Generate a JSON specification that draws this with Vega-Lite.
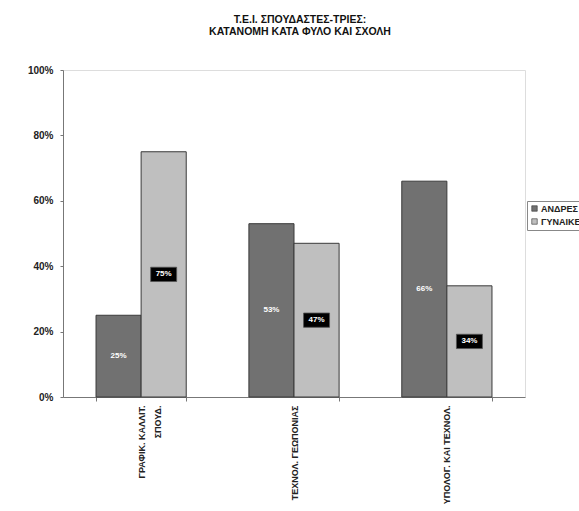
{
  "$schema": "https://vega.github.io/schema/vega-lite/v6.json",
  "autosize": {"type": "none"},
  "padding": {"left": 63, "top": 70, "right": 54, "bottom": 114},
  "width": 462,
  "height": 327,
  "background": "white",
  "title": {
    "text": ["Τ.Ε.Ι. ΣΠΟΥΔΑΣΤΕΣ-ΤΡΙΕΣ:", "ΚΑΤΑΝΟΜΗ ΚΑΤΑ ΦΥΛΟ ΚΑΙ ΣΧΟΛΗ"],
    "anchor": "middle",
    "frame": "group",
    "font": "Liberation Sans",
    "fontSize": 10.5,
    "fontWeight": "bold",
    "lineHeight": 12,
    "color": "#111",
    "offset": 28,
    "dx": 6
  },
  "data": {
    "values": [
      {"school": "ΓΡΑΦΙΚ. ΚΑΛΛΙΤ. ΣΠΟΥΔ.", "sex": "ΑΝΔΡΕΣ", "share": 0.25},
      {"school": "ΓΡΑΦΙΚ. ΚΑΛΛΙΤ. ΣΠΟΥΔ.", "sex": "ΓΥΝΑΙΚΕΣ", "share": 0.75},
      {"school": "ΤΕΧΝΟΛ. ΓΕΩΠΟΝΙΑΣ", "sex": "ΑΝΔΡΕΣ", "share": 0.53},
      {"school": "ΤΕΧΝΟΛ. ΓΕΩΠΟΝΙΑΣ", "sex": "ΓΥΝΑΙΚΕΣ", "share": 0.47},
      {"school": "ΥΠΟΛΟΓ. ΚΑΙ ΤΕΧΝΟΛ.", "sex": "ΑΝΔΡΕΣ", "share": 0.66},
      {"school": "ΥΠΟΛΟΓ. ΚΑΙ ΤΕΧΝΟΛ.", "sex": "ΓΥΝΑΙΚΕΣ", "share": 0.34}
    ]
  },
  "transform": [{"calculate": "datum.share / 2", "as": "label_y"}],
  "encoding": {
    "x": {
      "field": "school",
      "type": "nominal",
      "sort": null,
      "scale": {"paddingInner": 0.41, "paddingOuter": 0.216},
      "axis": {
        "title": null,
        "labelAngle": 270,
        "labelFont": "Liberation Sans",
        "labelFontSize": 9,
        "labelFontWeight": "bold",
        "labelColor": "#222",
        "labelLineHeight": 16,
        "labelPadding": 4,
        "labelExpr": "datum.label == 'ΓΡΑΦΙΚ. ΚΑΛΛΙΤ. ΣΠΟΥΔ.' ? ['ΓΡΑΦΙΚ. ΚΑΛΛΙΤ.', 'ΣΠΟΥΔ.'] : datum.label",
        "tickBand": "extent",
        "tickSize": 4,
        "tickColor": "#777",
        "domainColor": "#777",
        "labelLimit": 200
      }
    },
    "xOffset": {
      "field": "sex",
      "type": "nominal",
      "scale": {"paddingInner": 0, "paddingOuter": 0}
    }
  },
  "layer": [
    {
      "mark": {"type": "bar", "stroke": "#3a3a3a", "strokeWidth": 1},
      "encoding": {
        "y": {
          "field": "share",
          "type": "quantitative",
          "scale": {"domain": [0, 1], "nice": false},
          "axis": {
            "title": null,
            "values": [0, 0.2, 0.4, 0.6, 0.8, 1],
            "format": ".0%",
            "grid": false,
            "labelFont": "Liberation Sans",
            "labelFontSize": 10,
            "labelFontWeight": "bold",
            "labelColor": "#222",
            "labelPadding": 7,
            "tickSize": 3,
            "tickColor": "#777",
            "domainColor": "#777"
          }
        },
        "fill": {
          "field": "sex",
          "type": "nominal",
          "scale": {"domain": ["ΑΝΔΡΕΣ", "ΓΥΝΑΙΚΕΣ"], "range": ["#717171", "#bfbfbf"]},
          "legend": {
            "title": null,
            "orient": "none",
            "legendX": 464,
            "legendY": 131,
            "direction": "vertical",
            "symbolType": "square",
            "symbolSize": 30,
            "symbolStrokeColor": "#333",
            "symbolStrokeWidth": 0.6,
            "labelFont": "Liberation Sans",
            "labelFontSize": 9,
            "labelFontWeight": "bold",
            "labelColor": "#222",
            "labelOffset": 2,
            "rowPadding": 3,
            "padding": 3,
            "strokeColor": "#888",
            "fillColor": "white"
          }
        }
      }
    },
    {
      "transform": [{"filter": "datum.sex == 'ΓΥΝΑΙΚΕΣ'"}],
      "mark": {
        "type": "point",
        "shape": "M-1,-0.55L1,-0.55L1,0.55L-1,0.55Z",
        "size": 676,
        "filled": true,
        "fill": "#000",
        "opacity": 1,
        "stroke": "#555",
        "strokeWidth": 0.8
      },
      "encoding": {
        "y": {"field": "label_y", "type": "quantitative"}
      }
    },
    {
      "mark": {
        "type": "text",
        "font": "Liberation Sans",
        "fontSize": 8,
        "fontWeight": "bold",
        "color": "white",
        "baseline": "middle",
        "align": "center"
      },
      "encoding": {
        "y": {"field": "label_y", "type": "quantitative"},
        "text": {"field": "share", "type": "quantitative", "format": ".0%"}
      }
    }
  ]
}
